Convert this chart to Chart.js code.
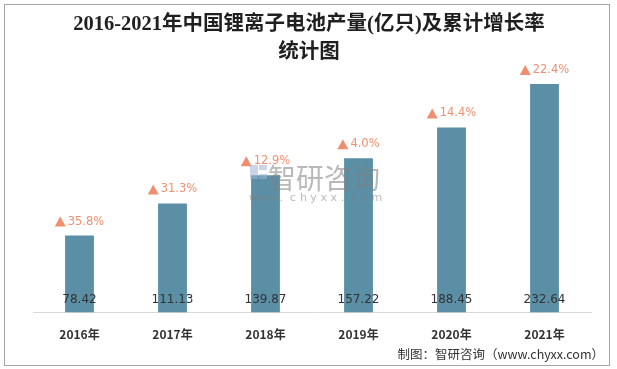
<!DOCTYPE html>
<html><head><meta charset="utf-8">
<script src="https://cdn.jsdelivr.net/npm/chart.js@4/dist/chart.umd.min.js"></script>
<style>
html,body{margin:0;padding:0;background:#fff;}
#wrap{position:relative;width:617px;height:369px;}
</style></head>
<body><div id="wrap"><canvas id="c" width="617" height="369"></canvas></div>
<script>
const categories = ["2016年","2017年","2018年","2019年","2020年","2021年"];
const production = [78.42, 111.13, 139.87, 157.22, 188.45, 232.64];
const growth = ["35.8%","31.3%","12.9%","4.0%","14.4%","22.4%"];
const titleLines = ["2016-2021年中国锂离子电池产量(亿只)及累计增长率","统计图"];
const sourceText = "制图：智研咨询（www.chyxx.com）";

const decor = {
  id: 'decor',
  beforeDraw(chart) {
    const ctx = chart.ctx;
    ctx.save();
    ctx.fillStyle = '#fff';
    ctx.fillRect(0,0,chart.width,chart.height);
    ctx.strokeStyle = '#a6a6a6';
    ctx.lineWidth = 1;
    ctx.strokeRect(4.5,4.5,605,361);
    ctx.fillStyle = '#1f1f1f';
    ctx.textAlign = 'center';
    ctx.textBaseline = 'middle';
    ctx.font = 'bold 20.5px "Liberation Serif", "Noto Sans CJK SC", serif';
    ctx.fillText(titleLines[0], 309, 25);
    ctx.fillText(titleLines[1], 309, 53);
    ctx.font = '12.5px "Noto Sans CJK SC", sans-serif';
    ctx.textAlign = 'right';
    ctx.fillStyle = '#333';
    ctx.fillText(sourceText, 604, 354);
    ctx.restore();
  },
  afterDatasetsDraw(chart) {
    const ctx = chart.ctx;
    const meta = chart.getDatasetMeta(0);
    const base = chart.scales.y.getPixelForValue(0);
    ctx.save();
    ctx.textBaseline = 'middle';
    meta.data.forEach((bar, i) => {
      ctx.font = '12px "DejaVu Sans", sans-serif';
      ctx.fillStyle = '#333';
      ctx.textAlign = 'center';
      ctx.fillText(production[i].toFixed(2), bar.x, base - 13);
      const txt = growth[i];
      ctx.font = '11.5px "DejaVu Sans", sans-serif';
      const w = ctx.measureText(txt).width;
      const total = w + 13;
      const x0 = bar.x - total/2;
      const y = bar.y - 14;
      ctx.fillStyle = '#f08f70';
      ctx.beginPath();
      ctx.moveTo(x0, y+5);
      ctx.lineTo(x0+11, y+5);
      ctx.lineTo(x0+5.5, y-5);
      ctx.closePath();
      ctx.fill();
      ctx.textAlign = 'left';
      ctx.fillText(txt, x0+13, y);
    });
    // watermark over bars
    ctx.globalAlpha = 0.55;
    ctx.fillStyle = '#808080';
    ctx.textAlign = 'left';
    ctx.font = '28px "Noto Sans CJK SC", sans-serif';
    ctx.fillText('智研咨询', 268, 178);
    ctx.font = '11px "DejaVu Sans", sans-serif';
    const s = 'www.chyxx.com';
    for (let i=0;i<s.length;i++) ctx.fillText(s[i], 249 + i*10.2, 198);
    ctx.fillStyle = '#9fb5d6';
    ctx.fillRect(250,165,8,14);
    ctx.fillRect(259,165,8,5);
    ctx.fillRect(259,174,8,5);
    ctx.restore();
  }
};

new Chart(document.getElementById('c'), {
  type: 'bar',
  data: {
    labels: categories,
    datasets: [{
      data: production,
      backgroundColor: '#5b8fa6',
      borderWidth: 0,
      categoryPercentage: 1,
      barPercentage: 0.31
    }]
  },
  options: {
    responsive: false,
    animation: false,
    layout: { padding: { left: 33, right: 26, top: 67, bottom: 12 } },
    plugins: { legend: { display: false }, tooltip: { enabled: false } },
    scales: {
      x: {
        grid: { display: false, drawTicks: false },
        border: { display: true, color: '#d9d9d9', width: 1 },
        ticks: { color: '#333', font: { family: '"Noto Sans CJK SC", sans-serif', size: 12, weight: 'bold' }, padding: 15 }
      },
      y: {
        display: false,
        min: 0, max: 250
      }
    }
  },
  plugins: [decor]
});
</script></body></html>
